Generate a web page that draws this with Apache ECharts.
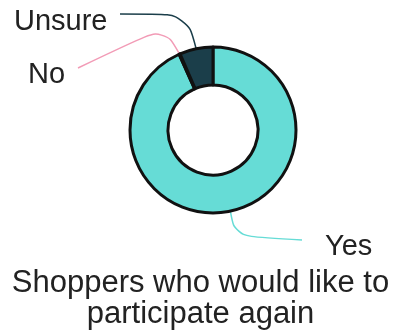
<!DOCTYPE html>
<html>
<head>
<meta charset="utf-8">
<script src="https://cdn.jsdelivr.net/npm/echarts@6/dist/echarts.min.js"></script>
<style>
  html, body { margin: 0; padding: 0; background: #fff; }
  #main { width: 401px; height: 334px; }
</style>
</head>
<body>
<div id="main"></div>
<script>
// 数据
const categories = ['Yes', 'No', 'Unsure']
const values = [93.3, 0.2, 6.5]
const colors = ['#66dcd6', '#f29bb6', '#1b3e4a']

const chart = echarts.init(document.getElementById('main'))

// 标签位置 (像素) 和引导线拐点
const labelPos = {
  Yes: { x: 325, y: 247, elbow: [235, 236], end: [302, 240] },
  No: { x: 28, y: 75, elbow: [164, 27], end: [78, 68] },
  Unsure: { x: 14, y: 22, elbow: [187, 14], end: [120, 14] }
}

const option = {
  animation: false,
  title: {
    text: 'Shoppers who would like to\nparticipate again',
    left: 'center',
    top: 263,
    textStyle: {
      fontFamily: 'Liberation Sans, Arial, sans-serif',
      fontSize: 31,
      fontWeight: 'normal',
      color: '#222',
      lineHeight: 31
    }
  },
  series: [
    {
      type: 'pie',
      center: [213, 130],
      radius: [45, 83],
      startAngle: 90,
      avoidLabelOverlap: false,
      itemStyle: {
        borderColor: '#111',
        borderWidth: 3
      },
      label: {
        fontFamily: 'Liberation Sans, Arial, sans-serif',
        fontSize: 29,
        color: '#222'
      },
      labelLine: {
        show: true,
        smooth: 0.4,
        lineStyle: { width: 1.5 }
      },
      labelLayout: (params) => {
        const name = categories[params.dataIndex]
        const p = labelPos[name]
        const start = params.labelLinePoints ? params.labelLinePoints[0] : p.elbow
        return {
          x: p.x,
          y: p.y,
          align: 'left',
          verticalAlign: 'middle',
          labelLinePoints: [start, p.elbow, p.end]
        }
      },
      data: categories.map((name, i) => ({
        name,
        value: values[i],
        itemStyle: { color: colors[i] }
      }))
    }
  ]
}

chart.setOption(option)
</script>
</body>
</html>
